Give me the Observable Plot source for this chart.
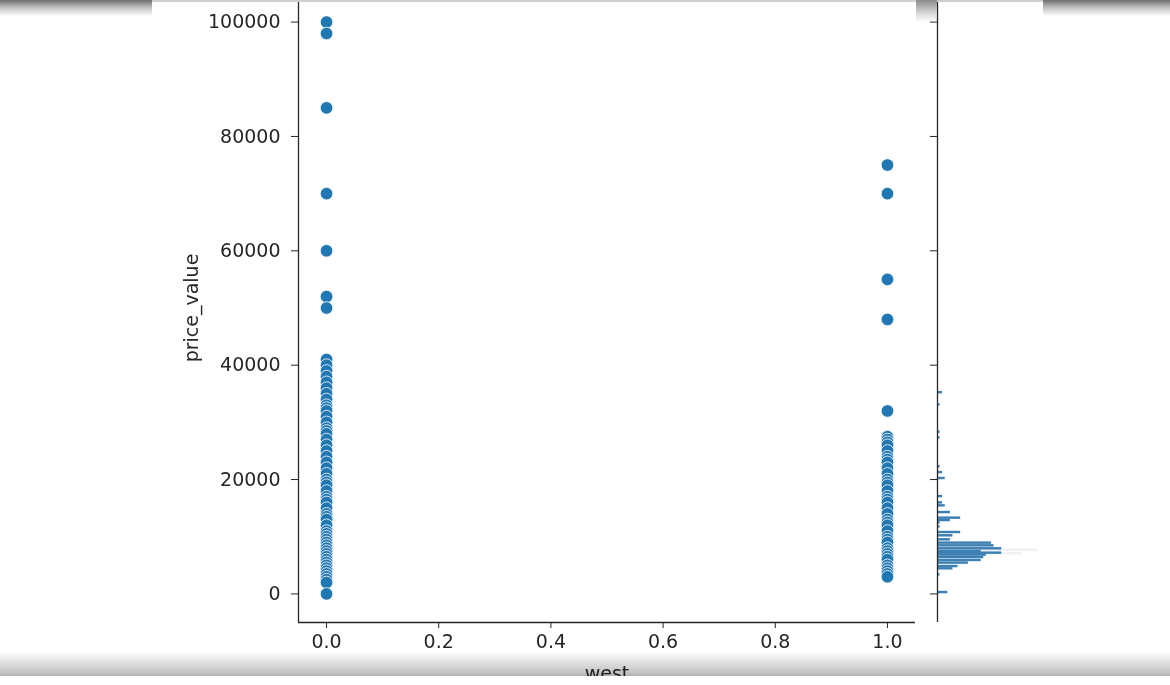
<!DOCTYPE html>
<html>
<head>
<meta charset="utf-8">
<script src="https://cdn.jsdelivr.net/npm/d3@7"></script>
<script src="https://cdn.jsdelivr.net/npm/@observablehq/plot@0.6"></script>
<style>
  body { margin:0; background:#fff; width:1170px; height:685px; overflow:hidden; position:relative; font-family:"DejaVu Sans", sans-serif; }
  .ov { position:absolute; pointer-events:none; }
</style>
</head>
<body>
<div id="main" style="position:absolute;left:0;top:-7px"></div>
<div id="marg" style="position:absolute;left:925px;top:-7px"></div>
<div class="ov" style="left:0;top:0;width:152px;height:16px;background:linear-gradient(#6e6e6e,#bdbdbd 45%,#ffffff)"></div>
<div class="ov" style="left:152px;top:0;width:891px;height:2px;background:#cfcfcf"></div>
<div class="ov" style="left:916px;top:0;width:21px;height:22px;background:linear-gradient(#8a8a8a,#d8d8d8 60%,rgba(255,255,255,0))"></div>
<div class="ov" style="left:1043px;top:0;width:127px;height:16px;background:linear-gradient(#6e6e6e,#bdbdbd 45%,#ffffff)"></div>
<div class="ov" style="left:0;top:652px;width:1170px;height:24px;mix-blend-mode:multiply;background:linear-gradient(#ffffff,#e2e2e2 40%,#c4c4c4 85%,#b0b0b0)"></div>
<div class="ov" style="left:0;top:676px;width:1170px;height:9px;background:#fff"></div>
<script>
// scatter data: west = 0
const west0Prices = [100000, 98000, 85000, 70000, 60000, 52000, 50000,
  41000, 40000, 39000, 38000, 37000, 36000, 35000, 34000, 33000, 32500, 32000, 31000, 30000,
  29000, 28500, 28000, 27000, 26000, 25000, 24000, 23000, 22000, 21000, 20000, 19500, 19000,
  18000, 17000, 16500, 16000, 15000, 14000, 13500, 13000, 12000, 11000, 10500, 10000, 9500,
  9000, 8500, 8000, 7500, 7000, 6500, 6000, 5500, 5000, 4500, 4000, 3500, 3000, 2500, 2000, 0];
// scatter data: west = 1
const west1Prices = [75000, 70000, 55000, 48000, 32000,
  27500, 27000, 26500, 26000, 25000, 24000, 23500, 23000, 22000, 21000, 20000, 19500, 19000,
  18000, 17000, 16500, 16000, 15000, 14000, 13000, 12500, 12000, 11000, 10000, 9500, 9000,
  8000, 7500, 7000, 6500, 6000, 5000, 4500, 4000, 3500, 3000];

// marginal histogram of price_value (bin start, count)
const histStart = [34950, 32800, 28050, 27050, 22000, 20980, 19940, 16780, 15680, 15160, 13990,
  13010, 12590, 12180, 11480, 10500, 9920, 9220, 8640, 8170, 7650, 7180, 6890, 6550, 6130,
  5610, 5150, 4550, 4150, 3100, 0];
const histCount = [2, 1, 1, 1, 1, 2, 3, 2, 2, 3, 5, 9, 5, 1, 1, 9, 6, 5, 21, 22, 25, 17, 25,
  19, 18, 17, 12, 8, 6, 1, 4];
// bins whose fill is mostly hidden by their white edges
const faintStart = [7400, 6770];
const faintCount = [39, 33];
const binWidth = 480;

const xTicks = [0, 0.2, 0.4, 0.6, 0.8, 1.0];
const yTicks = [0, 20000, 40000, 60000, 80000, 100000];

const points = [
  ...west0Prices.map(p => ({west: 0, price_value: p})),
  ...west1Prices.map(p => ({west: 1, price_value: p}))
];
const bins = histStart.map((s, i) => ({start: s, count: histCount[i]}));
const faint = faintStart.map((s, i) => ({start: s, count: faintCount[i]}));

const font = {fontSize: "19px", fontFamily: "DejaVu Sans", color: "#262626", background: "transparent", overflow: "visible"};
const yDomain = [-5000, 105000];

const main = Plot.plot({
  width: 930, height: 690,
  marginLeft: 298, marginRight: 15, marginTop: 0, marginBottom: 61,
  style: font,
  x: {domain: [-0.05, 1.05]},
  y: {domain: yDomain},
  marks: [
    Plot.ruleX([-0.05], {stroke: "#262626", strokeWidth: 1.3}),
    Plot.ruleY([-5000], {stroke: "#262626", strokeWidth: 1.3}),
    Plot.axisX({ticks: xTicks, tickFormat: d3.format(".1f"), tickSize: 6, tickPadding: 6, label: null, stroke: "#262626", fill: "#262626"}),
    Plot.axisY({ticks: yTicks, tickFormat: d => String(d), tickSize: 7, tickPadding: 11, label: null, stroke: "#262626", fill: "#262626"}),
    Plot.dot(points, {x: "west", y: "price_value", r: 6.3, fill: "#1f77b4", stroke: "white", strokeWidth: 0.8}),
    Plot.text(["price_value"], {frameAnchor: "left", textAnchor: "middle", rotate: -90, dx: -107, fill: "#262626", fontSize: 19}),
    Plot.text(["west"], {frameAnchor: "bottom", lineAnchor: "top", dy: 44, fill: "#262626", fontSize: 19})
  ]
});
document.getElementById("main").appendChild(main);

const marg = Plot.plot({
  width: 120, height: 690,
  marginLeft: 12, marginRight: 0, marginTop: 0, marginBottom: 61,
  style: font,
  x: {domain: [0, 42], axis: null},
  y: {domain: yDomain},
  marks: [
    Plot.rectX(faint, {y1: "start", y2: d => d.start + binWidth, x: "count", fill: "#eef2f6", insetTop: 0.15, insetBottom: 0.15}),
    Plot.rectX(bins, {y1: "start", y2: d => d.start + binWidth, x: "count", fill: "#3b7fb3", insetTop: 0.15, insetBottom: 0.15}),
    Plot.ruleX([0], {stroke: "#262626", strokeWidth: 1.3}),
    Plot.axisY({ticks: yTicks, tickFormat: () => "", tickSize: 7, label: null, stroke: "#262626"})
  ]
});
document.getElementById("marg").appendChild(marg);
</script>
</body>
</html>
